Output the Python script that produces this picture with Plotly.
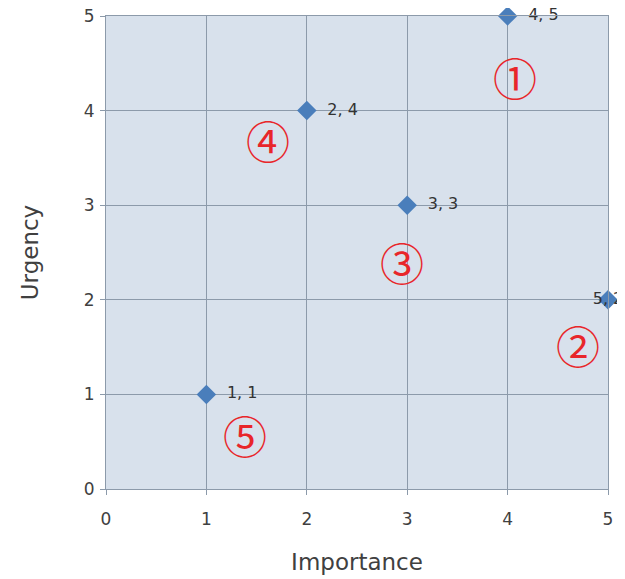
import plotly.graph_objects as go

importance = [4, 2, 3, 5, 1]
urgency = [5, 4, 3, 2, 1]
point_labels = ["4, 5", "2, 4", "3, 3", "5, 2", "1, 1"]
label_positions = ["middle right", "middle right", "middle right", "middle center", "middle right"]

zone_labels = ["①", "②", "③", "④", "⑤"]
zone_x = [4.07, 4.70, 2.95, 1.61, 1.38]
zone_y = [4.36, 1.52, 2.40, 3.69, 0.57]

tick_vals = [0, 1, 2, 3, 4, 5]

fig = go.Figure()
fig.add_trace(go.Scatter(
    x=importance, y=urgency, mode="markers+text",
    text=["  " + t if p == "middle right" else t for t, p in zip(point_labels, label_positions)],
    textposition=label_positions,
    textfont=dict(family="DejaVu Sans", size=16, color="#333333"),
    marker=dict(symbol="diamond", size=15, color="#4a7ebb"),
    cliponaxis=False, showlegend=False,
))

for lab, zx, zy in zip(zone_labels, zone_x, zone_y):
    fig.add_annotation(x=zx, y=zy, text=lab, showarrow=False,
                       font=dict(family="Noto Sans CJK JP", size=44, color="#e8262a"))

fig.update_layout(
    width=617, height=571,
    margin=dict(l=98, r=17, t=8, b=90, autoexpand=False),
    paper_bgcolor="white", plot_bgcolor="#d8e1ec",
    font=dict(family="DejaVu Sans", color="#404040"),
)
fig.update_xaxes(range=[0, 5], tickvals=tick_vals, showgrid=True, gridcolor="#8c9aaa", gridwidth=1,
                 zeroline=False, showline=True, linecolor="#8c9aaa", mirror=True,
                 ticks="outside", ticklen=5, tickcolor="#8c9aaa", automargin=False,
                 ticklabeloverflow="allow", ticklabelstandoff=10,
                 tickfont=dict(size=17), title=dict(text="Importance", font=dict(size=23), standoff=25))
fig.update_yaxes(range=[0, 5], tickvals=tick_vals, showgrid=True, gridcolor="#8c9aaa", gridwidth=1,
                 zeroline=False, showline=True, linecolor="#8c9aaa", mirror=True,
                 ticks="outside", ticklen=5, tickcolor="#8c9aaa", automargin=False,
                 ticklabeloverflow="allow", ticklabelstandoff=2,
                 tickfont=dict(size=17), title=dict(text="Urgency", font=dict(size=23), standoff=38))

fig.write_html("out.html")
